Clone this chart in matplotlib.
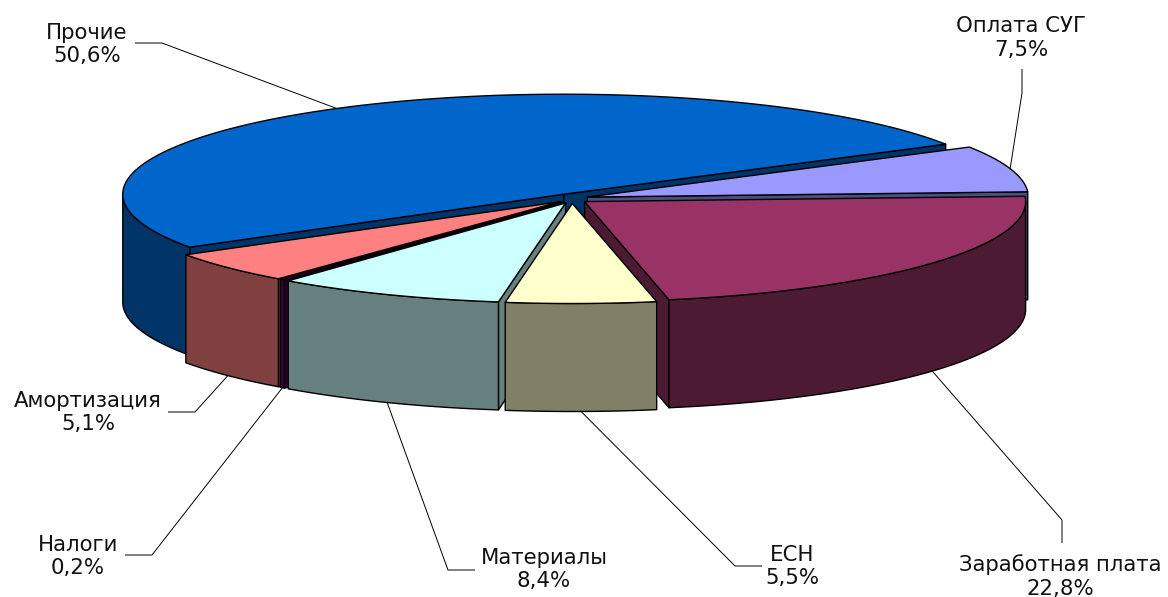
import numpy as np
import matplotlib
matplotlib.use("Agg")
import matplotlib.pyplot as plt
from matplotlib.patches import Polygon
from matplotlib.colors import to_rgb

# ---- data ----
categories = ["Оплата СУГ", "Заработная плата", "ЕСН", "Материалы",
              "Налоги", "Амортизация", "Прочие"]
values = [7.5, 22.8, 5.5, 8.4, 0.2, 5.1, 50.6]
value_labels = ["7,5%", "22,8%", "5,5%", "8,4%", "0,2%", "5,1%", "50,6%"]
colors = ["#9999FF", "#993366", "#FFFFCC", "#CCFFFF", "#660066", "#FF8080", "#0066CC"]

# ---- layout (pixel space) ----
CX, CY = 572, 198.5      # pie centre
RX, RY, H = 441, 100, 108  # ellipse radii and depth
EX, EY = 16, 5           # explosion offsets
START = 30.0             # angle (deg) of first slice edge, going clockwise

label_xy = [(1021, 38), (1060, 576.5), (792, 566.5), (544, 569.5),
            (78, 556.5), (88, 412.5), (87, 44.5)]
leader_pts = [[(1022, 69), (1022, 93)],
              [(1062, 543), (1062, 520)],
              [(762, 566), (735, 566)],
              [(475, 570), (448, 570)],
              [(125, 555), (152, 555)],
              [(168, 412), (195, 412)],
              [(135, 43), (162, 43)]]

fig = plt.figure(figsize=(11.68, 5.97), dpi=100)
ax = fig.add_axes([0, 0, 1, 1])
ax.set_xlim(0, 1168)
ax.set_ylim(597, 0)
ax.axis("off")

vals = np.array(values, dtype=float)
spans = vals / vals.sum() * 360.0
his = START - np.concatenate([[0], np.cumsum(spans)[:-1]])
los = his - spans
mids = (his + los) / 2


def pt(cx, cy, t, dz=0.0):
    r = np.radians(t)
    return (cx + RX * np.cos(r), cy - RY * np.sin(r) + dz)


def arc(cx, cy, a, b, dz=0.0, n=None):
    if n is None:
        n = max(2, int(abs(b - a) * 2) + 2)
    ts = np.linspace(a, b, n)
    return [pt(cx, cy, t, dz) for t in ts]


LW = 1.0
order = np.argsort(-np.sin(np.radians(mids)))
for i in order:
    lo, hi, mid = los[i], his[i], mids[i]
    cx = CX + EX * np.cos(np.radians(mid))
    cy = CY - EY * np.sin(np.radians(mid))
    top_c = to_rgb(colors[i])
    side_c = tuple(0.5 * c for c in top_c)
    # radial faces
    faces = []
    if np.cos(np.radians(hi)) < 0:
        faces.append(hi)
    if np.cos(np.radians(lo)) > 0:
        faces.append(lo)
    for a in faces:
        p1 = pt(cx, cy, a)
        p2 = pt(cx, cy, a, H)
        poly = [(cx, cy), p1, p2, (cx, cy + H)]
        ax.add_patch(Polygon(poly, closed=True, facecolor=side_c,
                             edgecolor="black", lw=LW, joinstyle="round"))
    # outer wall (front part)
    a = max(lo, -180.0)
    b = min(hi, 0.0)
    if b > a:
        topa = arc(cx, cy, a, b)
        bota = arc(cx, cy, b, a, H)
        ax.add_patch(Polygon(topa + bota, closed=True, facecolor=side_c,
                             edgecolor="black", lw=LW, joinstyle="round"))
    # top face
    poly = [(cx, cy)] + arc(cx, cy, lo, hi)
    ax.add_patch(Polygon(poly, closed=True, facecolor=top_c,
                         edgecolor="black", lw=LW, joinstyle="round"))

# labels and leader lines
for i in range(len(values)):
    mid = mids[i]
    cx = CX + EX * np.cos(np.radians(mid))
    cy = CY - EY * np.sin(np.radians(mid))
    if np.sin(np.radians(mid)) > 0:
        anchor = pt(cx, cy, mid)
    else:
        anchor = pt(cx, cy, mid, H)
    pts = leader_pts[i] + [anchor]
    xs, ys = zip(*pts)
    ax.plot(xs, ys, color="black", lw=0.7, solid_capstyle="butt")
    x, y = label_xy[i]
    ax.text(x, y, f"{categories[i]}\n{value_labels[i]}", ha="center", va="center",
            multialignment="center", fontsize=15.3, family="DejaVu Sans",
            color="#111111", linespacing=1.24)

fig.savefig("out.png", dpi=100)
